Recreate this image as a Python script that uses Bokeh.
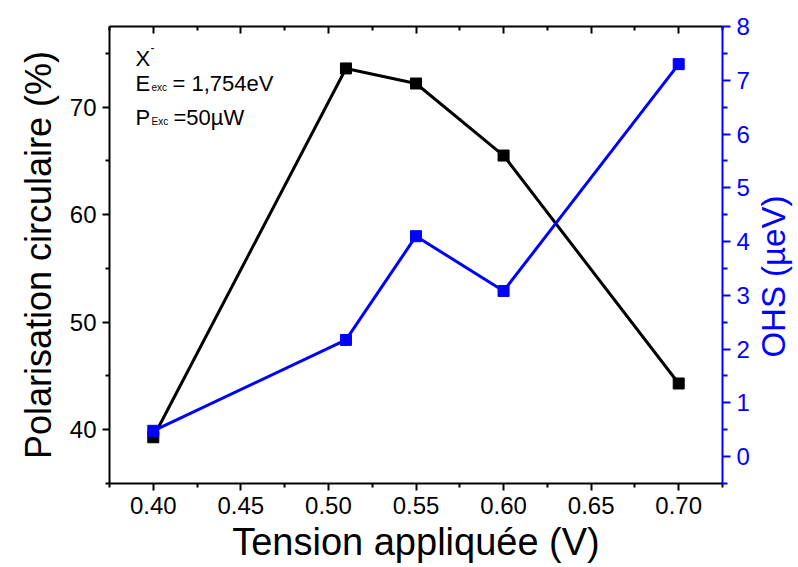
import math
from bokeh.plotting import figure
from bokeh.layouts import row
from bokeh.core.properties import value
from bokeh.models import LinearAxis, Range1d, FixedTicker, PrintfTickFormatter, Label, CustomJSTickFormatter
from bokeh.embed import file_html
from bokeh.resources import INLINE

# ---- data ----
tension = [0.40, 0.51, 0.55, 0.60, 0.70]
polarisation = [39.3, 73.6, 72.2, 65.5, 44.3]
ohs = [0.48, 2.17, 4.10, 3.08, 7.30]

x_major = [0.40, 0.45, 0.50, 0.55, 0.60, 0.65, 0.70]
x_minor = [0.375, 0.425, 0.475, 0.525, 0.575, 0.625, 0.675, 0.725]
y_major = [40, 50, 60, 70]
y_minor = [35, 45, 55, 65, 75]
y2_major = [0, 1, 2, 3, 4, 5, 6, 7, 8]
y2_minor = [-0.5, 0.5, 1.5, 2.5, 3.5, 4.5, 5.5, 6.5, 7.5]

x_label = "Tension appliquée (V)"
y_label = "Polarisation circulaire (%)"
y2_label = "OHS (µeV)"

FONT = "Liberation Sans"
BLUE = "#0000FF"

x0, x1 = 0.375, 0.725
y0, y1 = 35, 77.5

BORDER_L, BORDER_R, BORDER_T, BORDER_B = 109, 30, 26, 76
FRAME_W, FRAME_H = 613, 457
TOTAL_H = BORDER_T + FRAME_H + BORDER_B

p = figure(frame_width=FRAME_W, frame_height=FRAME_H,
           x_range=Range1d(x0, x1), y_range=Range1d(y0, y1),
           output_backend="svg", toolbar_location=None,
           min_border_left=BORDER_L, min_border_right=BORDER_R,
           min_border_top=BORDER_T, min_border_bottom=BORDER_B)
p.extra_y_ranges = {"ohs": Range1d(-0.5, 8)}
p.outline_line_color = None
p.xgrid.visible = False
p.ygrid.visible = False
p.background_fill_color = "white"
p.border_fill_color = "white"


def style_axis(ax, color="black"):
    ax.axis_line_color = color
    ax.axis_line_width = 2
    ax.major_tick_line_color = color
    ax.minor_tick_line_color = color
    ax.major_tick_line_width = 2
    ax.minor_tick_line_width = 2
    ax.major_label_text_color = color
    ax.major_label_text_font = FONT
    ax.major_label_text_font_size = "24px"
    ax.axis_label_text_font = FONT
    ax.axis_label_text_font_style = "normal"
    ax.axis_label_text_color = color


xa = p.below[0]
style_axis(xa)
xa.ticker = FixedTicker(ticks=x_major, minor_ticks=x_minor)
xa.formatter = PrintfTickFormatter(format="%.2f")
xa.major_tick_out = 7
xa.major_tick_in = 0
xa.minor_tick_out = 4
xa.minor_tick_in = 0
xa.major_label_standoff = 6
xa.axis_label = x_label
xa.axis_label_text_font_size = "38px"
xa.axis_label_standoff = 4

ya = p.left[0]
style_axis(ya)
ya.ticker = FixedTicker(ticks=y_major, minor_ticks=y_minor)
ya.major_tick_out = 7
ya.major_tick_in = 0
ya.minor_tick_out = 4
ya.minor_tick_in = 0
ya.major_label_standoff = 6
ya.axis_label = y_label
ya.axis_label_text_font_size = "36px"
ya.axis_label_standoff = 8

ta = LinearAxis(ticker=FixedTicker(ticks=x_major, minor_ticks=x_minor),
                formatter=CustomJSTickFormatter(code="return ''"))
style_axis(ta)
ta.major_tick_out = 0
ta.major_tick_in = 7
ta.minor_tick_out = 0
ta.minor_tick_in = 4
ta.major_label_text_font_size = "0px"
p.add_layout(ta, "above")

ra = LinearAxis(y_range_name="ohs",
                ticker=FixedTicker(ticks=y2_major, minor_ticks=y2_minor))
style_axis(ra, BLUE)
ra.major_tick_out = 8
ra.major_tick_in = 0
ra.minor_tick_out = 5
ra.minor_tick_in = 0
ra.major_label_standoff = 6
p.add_layout(ra, "right")

# ---- series ----
p.line(tension, polarisation, line_color="black", line_width=3)
p.scatter(tension, polarisation, marker="square", size=11,
          fill_color="black", line_color="black")
p.line(tension, ohs, y_range_name="ohs", line_color=BLUE, line_width=3)
p.scatter(tension, ohs, y_range_name="ohs", marker="square", size=11,
          fill_color=BLUE, line_color=BLUE)

# ---- annotation (anchored to the frame's top-left corner) ----
def lab(text, dx, dy, size):
    p.add_layout(Label(x=x0, y=y1, x_units="data", y_units="data",
                       x_offset=dx, y_offset=dy, text=text,
                       text_font=FONT, text_font_size=size,
                       text_color="black", text_align="left",
                       text_baseline="alphabetic"))

lab("X", 26, -32, "22px")
lab("-", 41, -21, "12px")
lab("E", 26, -57, "22px")
lab("exc", 42, -61, "10px")
lab("= 1,754eV", 63, -57, "22px")
lab("P", 26, -91, "22px")
lab("Exc", 42, -95, "10px")
lab("=50µW", 64, -91, "22px")

# ---- right-axis title in a narrow side panel (reads bottom to top) ----
SIDE_W = 44
p2 = figure(width=SIDE_W, height=TOTAL_H,
            x_range=Range1d(0, SIDE_W), y_range=Range1d(0, TOTAL_H),
            output_backend="svg", toolbar_location=None,
            min_border=0, min_border_left=0, min_border_right=0,
            min_border_top=0, min_border_bottom=0,
            x_axis_type=None, y_axis_type=None)
p2.outline_line_color = None
p2.xgrid.visible = False
p2.ygrid.visible = False
p2.background_fill_color = "white"
p2.border_fill_color = "white"
p2.text(x=[21], y=[TOTAL_H - 310], text=[y2_label], angle=math.pi / 2,
        text_font=value(FONT), text_font_size=value("33px"),
        text_color=BLUE, text_align="center", text_baseline="middle")

layout = row(p, p2, spacing=0)
open("out.html", "w").write(file_html(layout, INLINE))
